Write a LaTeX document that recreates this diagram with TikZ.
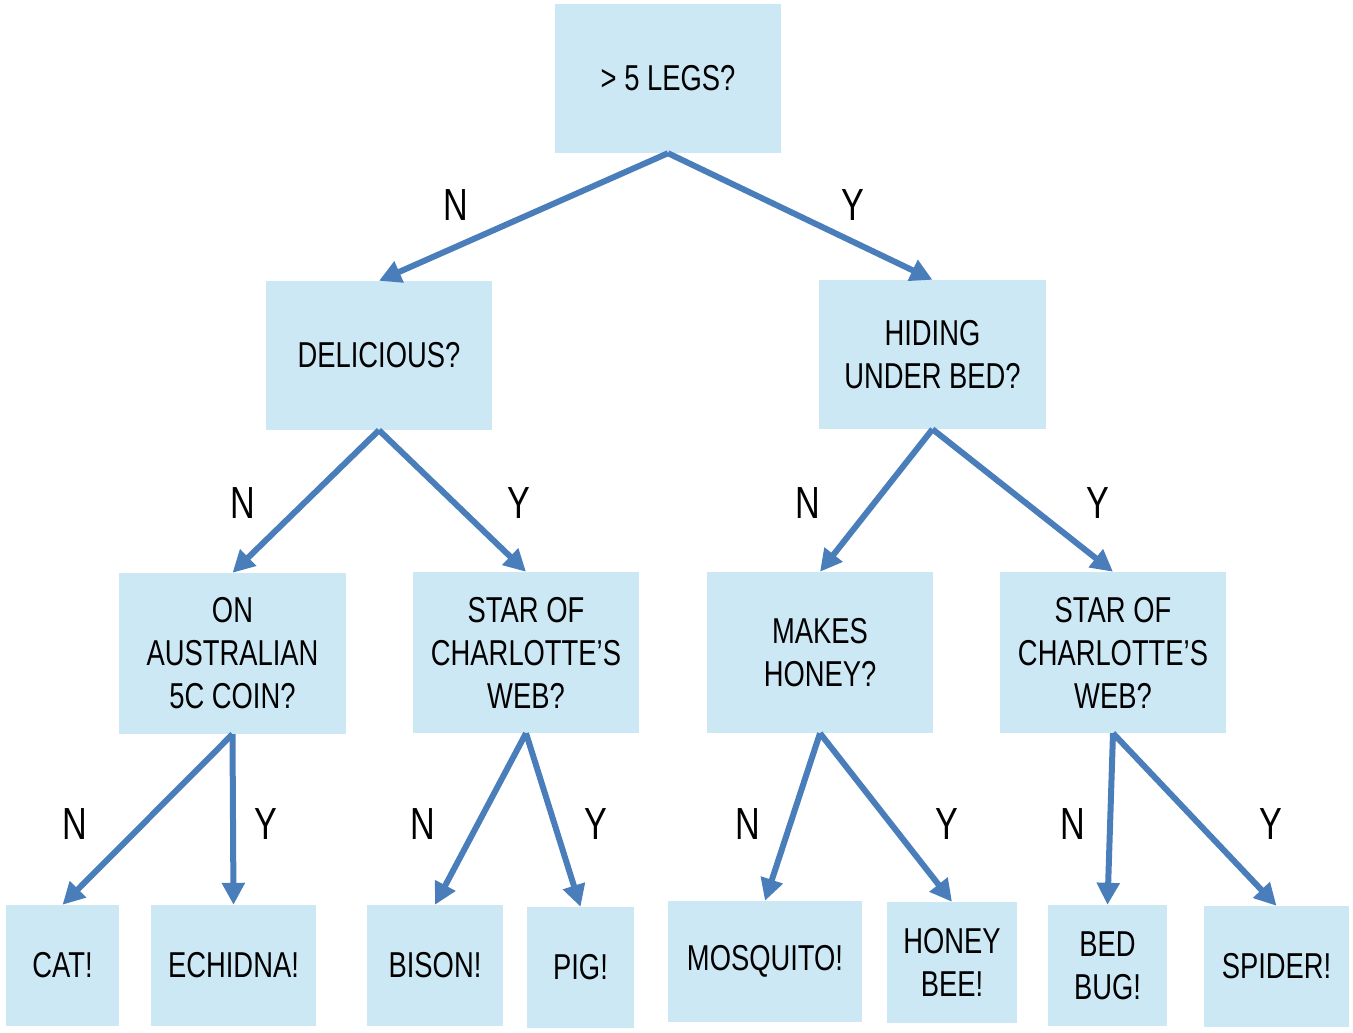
\documentclass[tikz,border=0pt]{standalone}
\usepackage{fontspec}
\setmainfont{Liberation Sans}[FakeStretch=0.76]
\usetikzlibrary{arrows.meta}
\definecolor{boxfill}{HTML}{CDE8F5}
\definecolor{arrowblue}{HTML}{4A7EBB}
\begin{document}
\begin{tikzpicture}[x=1pt,y=-1pt,
  box/.style={fill=boxfill,draw=none,inner sep=0pt,align=center,
    font=\fontsize{36}{43}\selectfont},
  conn/.style={draw=arrowblue,line width=6pt,
    -{Triangle[length=22pt,width=22pt]}},
  lab/.style={font=\fontsize{45}{50}\selectfont,inner sep=0pt}]
\useasboundingbox (0,0) rectangle (1353,1033);
% level 0
\node[box,minimum width=226pt,minimum height=149pt] (root) at (668,78.5) {> 5 LEGS?};
% level 1
\node[box,minimum width=226pt,minimum height=149pt] (delic) at (379,355.5) {DELICIOUS?};
\node[box,minimum width=227pt,minimum height=149pt] (hide) at (932.5,354.5) {HIDING\\UNDER BED?};
% level 2
\node[box,minimum width=227pt,minimum height=161pt] (aus) at (232.5,653.5) {ON\\AUSTRALIAN\\5C COIN?};
\node[box,minimum width=226pt,minimum height=161pt] (starl) at (526,652.5) {STAR OF\\CHARLOTTE’S\\WEB?};
\node[box,minimum width=226pt,minimum height=161pt] (honey) at (820,652.5) {MAKES\\HONEY?};
\node[box,minimum width=226pt,minimum height=161pt] (starr) at (1113,652.5) {STAR OF\\CHARLOTTE’S\\WEB?};
% level 3
\node[box,minimum width=113pt,minimum height=121pt] (cat) at (62.5,965.5) {CAT!};
\node[box,minimum width=165pt,minimum height=121pt] (echidna) at (233.5,965.5) {ECHIDNA!};
\node[box,minimum width=136pt,minimum height=121pt] (bison) at (435,965.5) {BISON!};
\node[box,minimum width=107pt,minimum height=121pt] (pig) at (580.5,967.5) {PIG!};
\node[box,minimum width=194pt,minimum height=121pt] (mosq) at (765,961.5) {MOSQUITO!};
\node[box,minimum width=130pt,minimum height=121pt] (bee) at (952,962.5) {HONEY\\BEE!};
\node[box,minimum width=119pt,minimum height=121pt] (bedbug) at (1107.5,965.5) {BED\\BUG!};
\node[box,minimum width=145pt,minimum height=121pt] (spider) at (1276.5,966.5) {SPIDER!};
% connectors
\draw[conn] (root.south) -- (delic.north);
\draw[conn] (root.south) -- (hide.north);
\draw[conn] (delic.south) -- (aus.north);
\draw[conn] (delic.south) -- (starl.north);
\draw[conn] (hide.south) -- (honey.north);
\draw[conn] (hide.south) -- (starr.north);
\draw[conn] (aus.south) -- (cat.north);
\draw[conn] (aus.south) -- (echidna.north);
\draw[conn] (starl.south) -- (bison.north);
\draw[conn] (starl.south) -- (pig.north);
\draw[conn] (honey.south) -- (mosq.north);
\draw[conn] (honey.south) -- (bee.north);
\draw[conn] (starr.south) -- (bedbug.north);
\draw[conn] (starr.south) -- (spider.north);
% labels
\node[lab] (l1) at (456,205) {N};
\node[lab] (l2) at (853,205) {Y};
\node[lab] (l3) at (243,503) {N};
\node[lab] (l4) at (519,503) {Y};
\node[lab] (l5) at (808,503) {N};
\node[lab] (l6) at (1098,503) {Y};
\node[lab] (l7) at (75,824) {N};
\node[lab] (l8) at (266,824) {Y};
\node[lab] (l9) at (423,824) {N};
\node[lab] (l10) at (596,824) {Y};
\node[lab] (l11) at (748,824) {N};
\node[lab] (l12) at (947,824) {Y};
\node[lab] (l13) at (1073,824) {N};
\node[lab] (l14) at (1271,824) {Y};
\end{tikzpicture}
\end{document}
